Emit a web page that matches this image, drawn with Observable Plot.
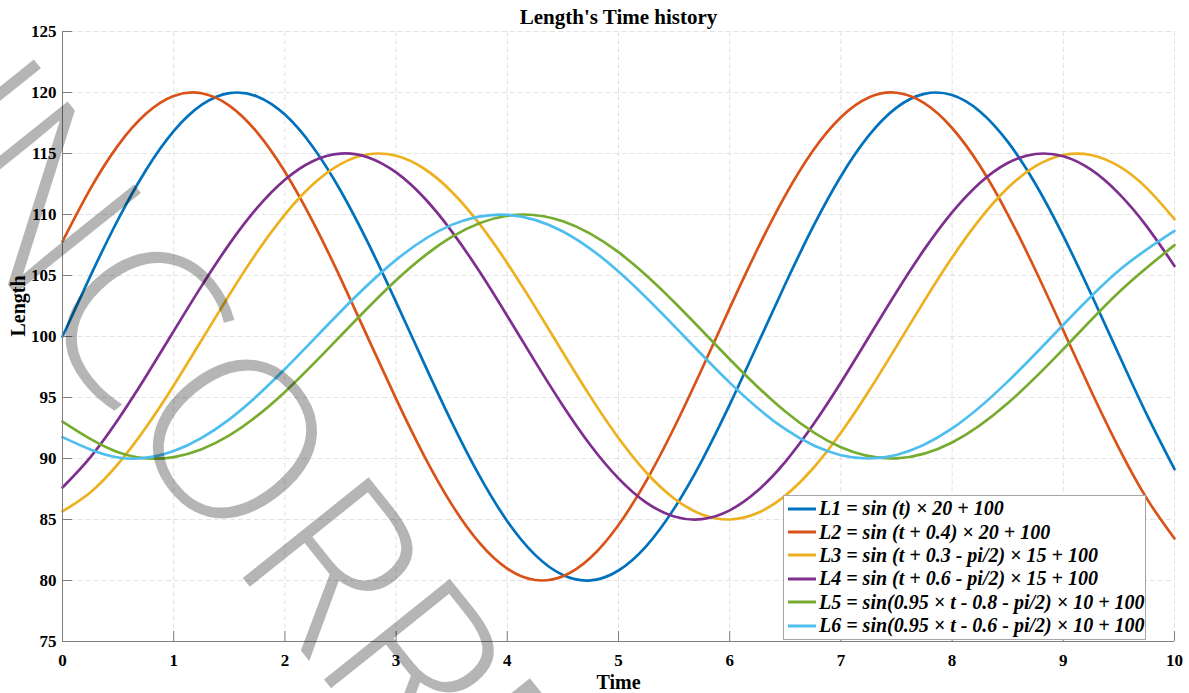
<!DOCTYPE html>
<html>
<head>
<meta charset="utf-8">
<script src="https://cdn.jsdelivr.net/npm/d3@7"></script>
<script src="https://cdn.jsdelivr.net/npm/@observablehq/plot@0.6"></script>
<style>
  html, body { margin: 0; padding: 0; background: #fff; overflow: hidden; }
  #wrap { position: relative; width: 1189px; height: 693px; overflow: hidden; background: #fff; }
  #legend {
    position: absolute; left: 783px; top: 495px; width: 361px;
    background: #fff; border: 1px solid #a6a6a6; padding: 1px 0 2px 0;
    font-family: "Liberation Serif", "Times New Roman", serif;
    font-weight: bold; font-style: italic; font-size: 20px; color: #000;
  }
  .lrow { display: flex; align-items: center; height: 23.4px; white-space: nowrap; }
  .lrow svg { margin-left: 4px; margin-right: 3px; flex: none; }
</style>
</head>
<body>
<div id="wrap"></div>
<script>
// ---------- data ----------
const time = [0,0.25,0.5,0.75,1,1.25,1.5,1.75,2,2.25,2.5,2.75,3,3.25,3.5,3.75,4,4.25,4.5,4.75,5,5.25,5.5,5.75,6,6.25,6.5,6.75,7,7.25,7.5,7.75,8,8.25,8.5,8.75,9,9.25,9.5,9.75,10];
const timeHalf = [0,0.5,1,1.5,2,2.5,3,3.5,4,4.5,5,5.5,6,6.5,7,7.5,8,8.5,9,9.5,10];

const L1 = [100,104.95,109.59,113.63,116.83,118.98,119.95,119.68,118.19,115.56,111.97,107.63,102.82,97.84,92.98,88.57,84.86,82.10,80.45,80.01,80.82,82.82,85.89,89.83,94.41,99.34,104.30,109.00,113.14,116.46,118.76,119.89,119.79,118.45,115.97,112.50,108.24,103.48,98.50,93.61,89.12];
const L2 = [107.79,112.10,115.67,118.25,119.71,119.94,118.93,116.74,113.51,109.44,104.79,99.83,94.89,90.26,86.24,83.08,80.97,80.04,80.35,81.88,84.55,88.17,92.52,97.34,102.33,107.17,111.57,115.25,117.97,119.59,119.98,119.13,117.09,113.99,110.02,105.43,100.50,95.53,90.85,86.73,83.44];
const L3 = [85.67,87.21,89.55,92.54,95.99,99.69,103.41,106.92,109.99,112.45,114.13,114.94,114.81,113.77,111.87,109.23,106.01,102.43,98.69,95.03,91.68,88.85,86.72,85.41,85.00,85.53,86.96,89.20,92.11,95.51,99.19,102.92,106.47,109.62,112.17,113.96,114.88,114.88,113.96,112.16,109.61];
const L4 = [87.62,90.10,93.20,96.72,100.44,104.13,107.57,110.54,112.85,114.37,114.99,114.68,113.45,111.39,108.62,105.32,101.68,97.94,94.33,91.07,88.37,86.38,85.25,85.03,85.75,87.35,89.73,92.76,96.23,99.94,103.65,107.14,110.18,112.59,114.22,114.96,114.77,113.67,111.71,109.03,105.78];
const L5 = [93.03,90.52,90.11,91.89,95.46,100.04,104.61,108.16,109.90,109.45,106.91,102.83,98.14,93.85,90.92,90.01,91.31,94.53,98.96,103.63,107.49];
const L6 = [91.75,90.08,90.61,93.21,97.33,102.03,106.28,109.15,109.98,108.61,105.33,100.87,96.22,92.40,90.27,90.29,92.46,96.30,100.96,105.41,108.65];

const seriesNames = [
  "L1 = sin (t) × 20 + 100",
  "L2 = sin (t + 0.4) × 20 + 100",
  "L3 = sin (t + 0.3 - pi/2) × 15 + 100",
  "L4 = sin (t + 0.6 - pi/2) × 15 + 100",
  "L5 = sin(0.95 × t - 0.8 - pi/2) × 10 + 100",
  "L6 = sin(0.95 × t - 0.6 - pi/2) × 10 + 100"
];
const seriesColors = ["#0072BD","#D95319","#EDB120","#7E2F8E","#77AC30","#4DBEEE"];
const xTicks = [0,1,2,3,4,5,6,7,8,9,10];
const yTicks = [75,80,85,90,95,100,105,110,115,120,125];
const titleText = "Length's Time history";
const xLabel = "Time";
const yLabel = "Length";
const watermarkText = "INCORRECT";

// ---------- build ----------
const seriesValues = [L1, L2, L3, L4, L5, L6];
const seriesTimes = [time, time, time, time, timeHalf, timeHalf];
const rows = seriesNames.flatMap((name, i) =>
  seriesValues[i].map((v, j) => ({name, t: seriesTimes[i][j], v}))
);

const W = 1189, H = 693, mL = 62, mR = 15, mT = 31, mB = 52;
const frameW = W - mL - mR, frameH = H - mT - mB;
const serif = "'Liberation Serif','Times New Roman',serif";
const axisGray = "#7f7f7f";

const chart = Plot.plot({
  width: W, height: H,
  marginLeft: mL, marginRight: mR, marginTop: mT, marginBottom: mB,
  style: {fontFamily: serif, fontSize: "17px", fontWeight: "bold", color: "#000", background: "#fff", overflow: "visible"},
  x: {domain: [0, 10], ticks: xTicks, label: null},
  y: {domain: [75, 125], ticks: yTicks, label: null},
  color: {domain: seriesNames, range: seriesColors},
  marks: [
    Plot.gridX({ticks: xTicks, stroke: "#e2e2e2", strokeOpacity: 1, strokeDasharray: "5,3"}),
    Plot.gridY({ticks: yTicks, stroke: "#e2e2e2", strokeOpacity: 1, strokeDasharray: "5,3"}),
    Plot.line(rows, {x: "t", y: "v", z: "name", stroke: "name", strokeWidth: 2.7, curve: "natural"}),
    Plot.ruleX([xTicks[0]], {stroke: axisGray}),
    Plot.ruleY([yTicks[0]], {stroke: axisGray}),
    Plot.tickX(xTicks, {x: d => d, stroke: axisGray, insetTop: frameH - 10}),
    Plot.tickY(yTicks, {y: d => d, stroke: axisGray, insetRight: frameW - 10}),
    Plot.axisX({ticks: xTicks, tickSize: 0, tickPadding: 12, fontSize: 17, fontWeight: "bold", fill: "#000"}),
    Plot.axisY({ticks: yTicks, tickSize: 0, tickPadding: 6, fontSize: 17, fontWeight: "bold", fill: "#000"}),
    Plot.text([xLabel], {text: d => d, frameAnchor: "bottom", lineAnchor: "middle", dy: 41, fontSize: 20, fontWeight: "bold", fill: "#000"}),
    Plot.text([yLabel], {text: d => d, frameAnchor: "left", lineAnchor: "middle", dx: -44, rotate: -90, fontSize: 20, fontWeight: "bold", fill: "#000"}),
    Plot.text([titleText], {text: d => d, frameAnchor: "top", lineAnchor: "middle", dy: -14, fontSize: 21, fontWeight: "bold", fill: "#000"})
  ]
});

const wrap = d3.select("#wrap");
wrap.node().appendChild(chart);
d3.select(chart).style("position", "absolute").style("left", "0px").style("top", "0px");

// legend
const legend = wrap.append("div").attr("id", "legend");
seriesNames.forEach((name, i) => {
  const row = legend.append("div").attr("class", "lrow");
  const s = row.append("svg").attr("width", 28).attr("height", 6);
  s.append("line").attr("x1", 0).attr("x2", 28).attr("y1", 3).attr("y2", 3)
    .attr("stroke", seriesColors[i]).attr("stroke-width", 3);
  row.append("span").text(name);
});

// watermark overlay
const wmCenters = [-522, -415, -262, -106, 52, 182, 305, 430, 555];
const wm = wrap.append("svg").attr("width", W).attr("height", H)
  .style("position", "absolute").style("left", "0px").style("top", "0px").style("pointer-events", "none");
const wmText = wm.append("g").attr("transform", "translate(238,572) rotate(51.3)")
  .append("text")
  .attr("font-family", "'Open Sans','Liberation Sans',sans-serif")
  .attr("font-weight", 300).attr("font-size", 226)
  .attr("fill", "#000").attr("fill-opacity", 0.29).attr("text-anchor", "middle");
watermarkText.split("").forEach((ch, i) => {
  wmText.append("tspan").attr("x", wmCenters[i]).attr("y", 0).text(ch);
});
</script>
</body>
</html>
